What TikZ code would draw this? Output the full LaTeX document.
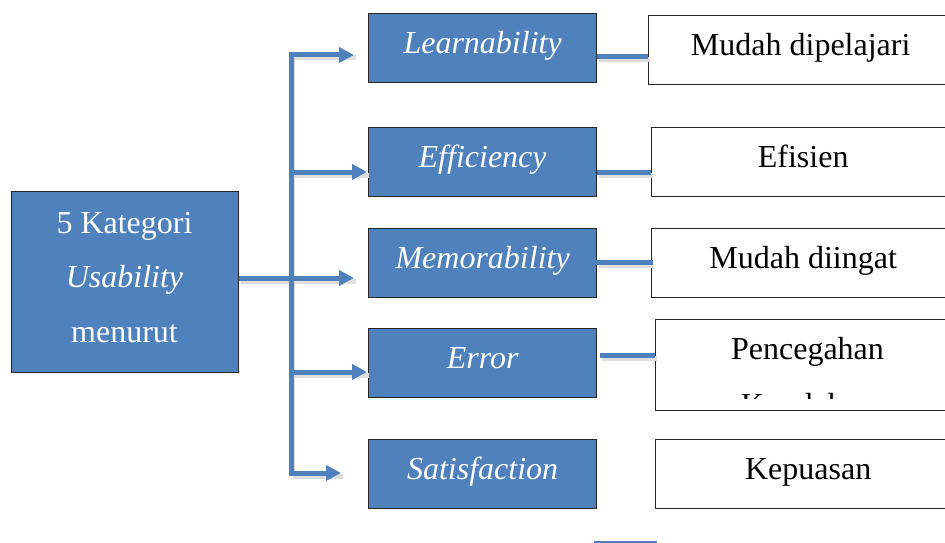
\documentclass[tikz,border=0pt]{standalone}
\usepackage{fontspec}
\setmainfont{Liberation Serif}
\usetikzlibrary{arrows.meta}
\definecolor{ublue}{HTML}{4F81BD}
\begin{document}
\begin{tikzpicture}[x=1pt,y=-1pt,
  bluebox/.style={draw=black!85,line width=1.3pt,fill=ublue,text=white,inner sep=0pt,anchor=north west,
    minimum width=228pt,minimum height=69pt,font=\fontsize{32}{38}\selectfont\itshape,text height=22pt,text depth=11pt},
  whitebox/.style={draw=black!85,line width=1.4pt,fill=white,inner sep=0pt,anchor=north west,
    minimum height=69pt,font=\fontsize{32}{38}\selectfont,text height=22pt,text depth=11pt},
  cattext/.style={anchor=base,text=white,inner sep=0pt,font=\fontsize{32}{38}\selectfont},
  plaintext/.style={anchor=base,inner sep=0pt,font=\fontsize{32}{38}\selectfont},
  link/.style={draw=ublue,line width=5pt,line join=miter},
  shadowline/.style={draw=black!13,line width=5pt,line join=miter,transform canvas={xshift=1.5pt,yshift=-3pt}},
  tip/.style={-{Triangle[length=15pt,width=15pt]}}]
\useasboundingbox (0,0) rectangle (945,543);

% left box
\node[draw=black!85,line width=1.3pt,fill=ublue,anchor=north west,inner sep=0pt,
      minimum width=227pt,minimum height=181pt] (cat) at (11,191) {};
\node[cattext] (cat1) at (124.5,233) {5 Kategori};
\node[cattext] (cat2) at (124.5,287) {\itshape Usability};
\node[cattext] (cat3) at (124.5,342) {menurut};

% blue boxes
\node[bluebox] (learn) at (368,13) {Learnability};
\node[bluebox] (effi) at (368,127) {Efficiency};
\node[bluebox] (memo) at (368,228) {Memorability};
\node[bluebox] (err) at (368,328) {Error};
\node[bluebox] (sati) at (368,439) {Satisfaction};

% white boxes
\node[whitebox,minimum width=304pt] (mud) at (648,15) {Mudah dipelajari};
\node[whitebox,minimum width=303pt] (efis) at (651,127) {Efisien};
\node[whitebox,minimum width=303pt] (ingat) at (651,228) {Mudah diingat};
\node[whitebox,minimum width=305pt,minimum height=91pt] (pence) at (655,319) {};
\coordinate (clipbot) at (960,398);
\begin{scope}
  \clip (pence.north west) rectangle (clipbot);
  \node[plaintext] (pen1) at (807.5,359) {Pencegahan};
  \node[plaintext] (pen2) at (807.5,415) {Kesalahan};
\end{scope}
\node[whitebox,minimum width=305pt] (kepu) at (655,439) {Kepuasan};

% partial box at the bottom
\fill[ublue] (594,541) rectangle (657,552);

% trunk and arrows
\coordinate (ttop) at (291,55);
\coordinate (tbot) at (291,473);
\coordinate (a1) at (354,55);
\coordinate (ef) at (291,172);
\coordinate (a2) at (367,172);
\coordinate (a3) at (354,278);
\coordinate (er) at (291,372);
\coordinate (a4) at (367,372);
\coordinate (a5) at (341,473);
\coordinate (y1) at (0,57);
\coordinate (y2) at (0,172);
\coordinate (y3) at (0,262);
\coordinate (y4) at (0,355);

% shadows
\begin{scope}
\draw[shadowline] (tbot) -- (ttop) -- (a1);
\draw[shadowline] (tbot) -- (a5);
\draw[shadowline] (ef) -- (a2);
\draw[shadowline] (cat.east |- a3) -- (a3);
\draw[shadowline] (er) -- (a4);
\draw[shadowline] (learn.east |- y1) -- (mud.west |- y1);
\draw[shadowline] (effi.east |- y2) -- (efis.west |- y2);
\draw[shadowline] (memo.east |- y3) -- (ingat.west |- y3);
\draw[shadowline] ([xshift=3pt]err.east |- y4) -- (pence.west |- y4);
\end{scope}

\draw[link,tip] (tbot) -- (ttop) -- (a1);
\draw[link,tip] (ttop) -- (tbot) -- (a5);
\draw[link,tip] (ef) -- (a2);
\draw[link,tip] (cat.east |- a3) -- (a3);
\draw[link,tip] (er) -- (a4);

% links to descriptions
\draw[link] (learn.east |- y1) -- (mud.west |- y1);
\draw[link] (effi.east |- y2) -- (efis.west |- y2);
\draw[link] ([xshift=-8pt]memo.east |- y3) -- ([xshift=2pt]ingat.west |- y3);
\draw[link] ([xshift=3pt]err.east |- y4) -- (pence.west |- y4);
\end{tikzpicture}
\end{document}
